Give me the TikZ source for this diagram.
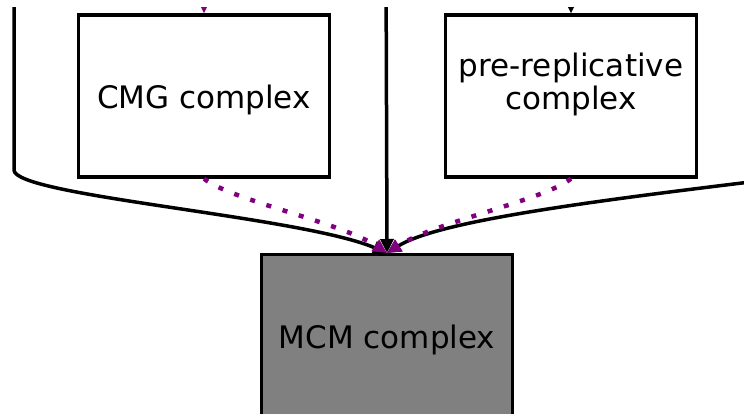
\documentclass[tikz,border=0pt]{standalone}
\usepackage{fontspec}
\setmainfont{DejaVu Sans}
\usetikzlibrary{arrows.meta}
\definecolor{edgepurple}{RGB}{128,0,128}
\definecolor{mcmgray}{RGB}{128,128,128}
\begin{document}
\begin{tikzpicture}[
        x = 1pt,
        y = -1pt,
        box/.style = {
            rectangle,
            draw,
            line width = 3.2pt,
            minimum width = 251pt,
            minimum height = 162pt,
            align = center,
            font = \fontsize{31}{33}\selectfont},
        oneline/.style = {
            text height = 26pt,
            text depth = 0pt},
        link/.style = {
            draw,
            line width = 3.5pt,
            -{Triangle[length=14pt, width=13pt]}},
        dotlink/.style = {
            link,
            edgepurple,
            line width = 4.5pt,
            dash pattern = on 5pt off 12pt}]
    \useasboundingbox (0,0) rectangle (744,414);
    \clip (0,8) rectangle (744,414);
    % Place nodes
    \node [box, oneline] (cmg) at (204,96) {CMG complex};
    \node [box, text depth=29.6pt] (prerc) at (571,96) {pre-replicative\\complex};
    \node [box, oneline, fill=mcmgray] (mcm) at (387,335.6) {MCM complex};
    % ends of edges above and beside the picture
    \coordinate (farleft) at (14,-40);
    \coordinate (farmid) at (386,-40);
    \coordinate (farright) at (800,176);
    \coordinate (cmgin) at (204,-40);
    \coordinate (prercin) at (571,-40);

    % Draw edges
    \path [dotlink] (cmgin) -- (cmg.north);
    \path [link] (prercin) -- (prerc.north);
    \path [link] (farleft) -- (14,170) .. controls (14,196) and (300,216) .. (mcm.north);
    \path [link] (farmid) -- (mcm.north);
    \path [link] (farright) .. controls (600,200) and (440,220) .. (mcm.north);
    \path [dotlink] (cmg.south) .. controls (230,200) and (340,222) .. (mcm.north);
    \path [dotlink] (prerc.south) .. controls (545,200) and (435,222) .. (mcm.north);
\end{tikzpicture}
\end{document}
